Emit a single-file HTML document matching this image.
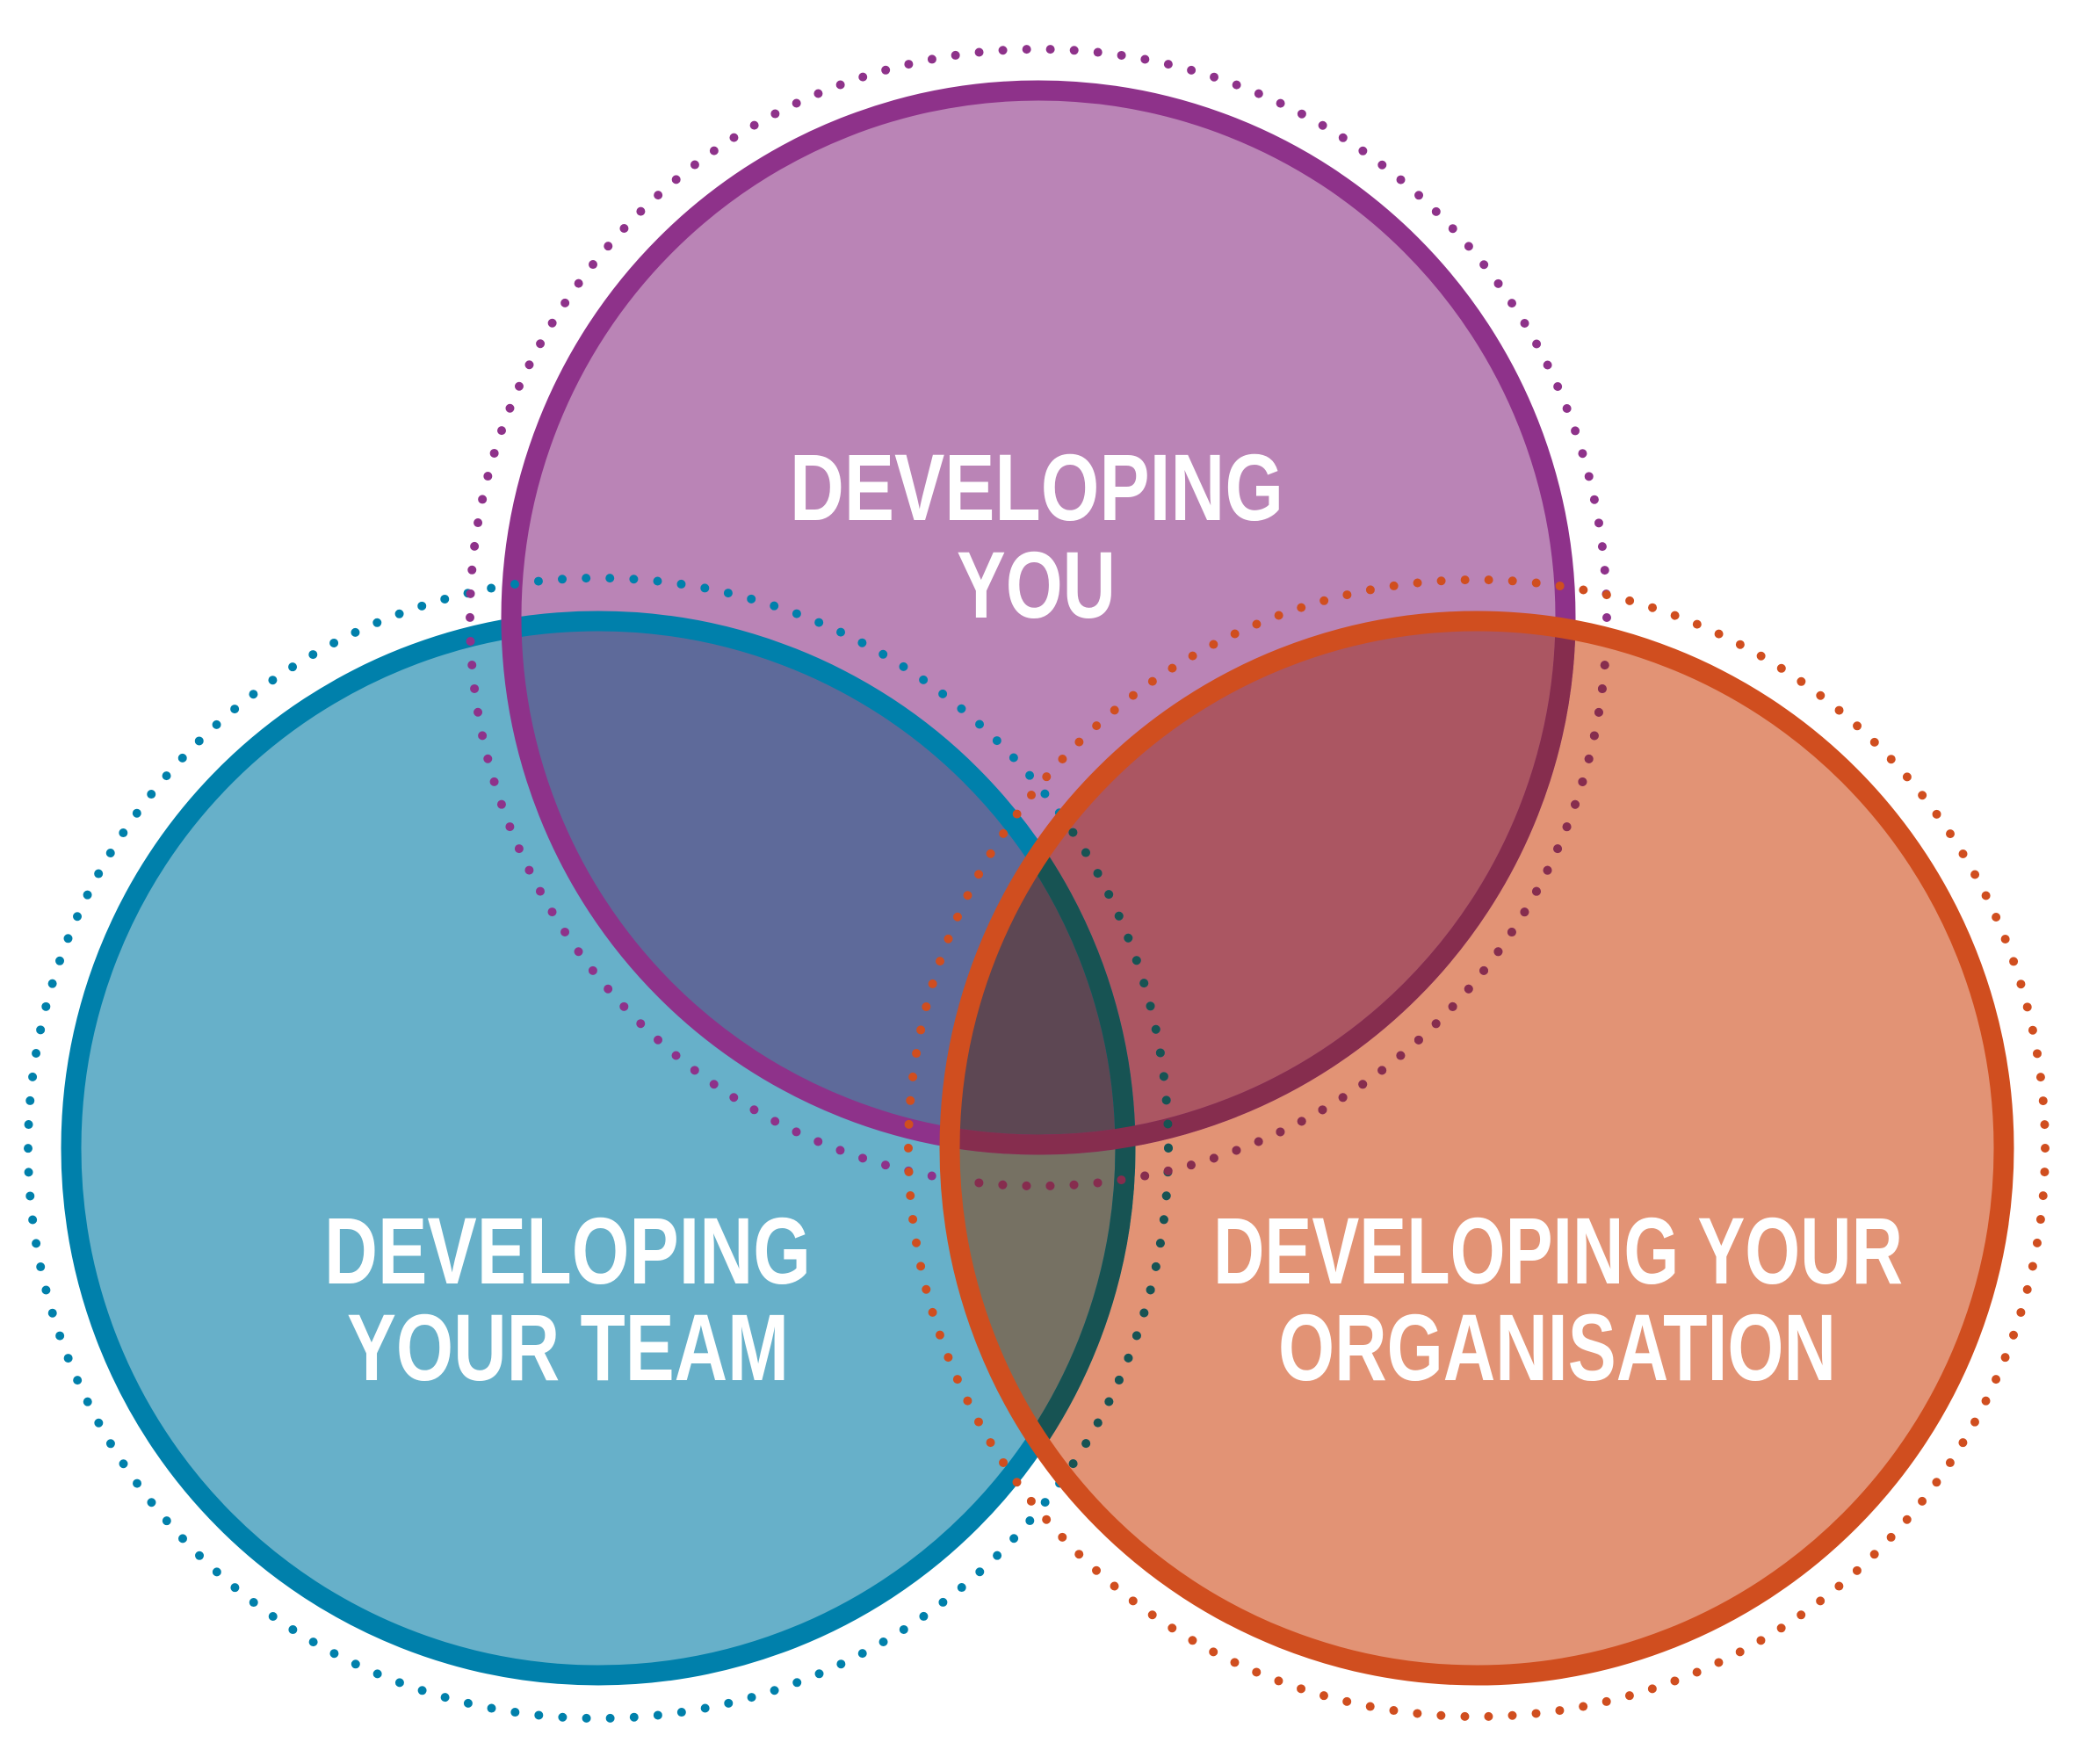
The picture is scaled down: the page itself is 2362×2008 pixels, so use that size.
<!DOCTYPE html>
<html><head><meta charset="utf-8"><style>
html,body{margin:0;padding:0;background:#fff;}
svg{display:block;}
text{font-family:"Liberation Sans Narrow","Liberation Sans",sans-serif;font-weight:bold;fill:#fff;font-size:108px;}
</style></head><body>
<svg width="2362" height="2008" viewBox="0 0 2362 2008" xmlns="http://www.w3.org/2000/svg">
<defs>
<clipPath id="cP"><circle cx="1182" cy="703" r="603"/></clipPath>
<clipPath id="cB"><circle cx="681" cy="1307" r="603"/></clipPath>
<clipPath id="cOin"><circle cx="1681" cy="1307" r="600"/></clipPath>
</defs>
<circle cx="681" cy="1307" r="603" fill="#67b0c9"/>
<circle cx="1182" cy="703" r="603" fill="#ba84b6"/>
<circle cx="1681" cy="1307" r="603" fill="#e29375"/>
<g clip-path="url(#cP)"><circle cx="681" cy="1307" r="603" fill="#5e6a9a"/><circle cx="1681" cy="1307" r="603" fill="#ab5662"/></g>
<g clip-path="url(#cB)"><circle cx="1681" cy="1307" r="603" fill="#767163"/>
<g clip-path="url(#cP)"><circle cx="1681" cy="1307" r="603" fill="#5d4753"/></g></g>
<circle cx="681" cy="1307" r="600" fill="none" stroke="#0080ab" stroke-width="23"/>
<circle cx="1182" cy="703" r="600" fill="none" stroke="#8e328a" stroke-width="23"/>
<circle cx="681" cy="1307" r="649" fill="none" stroke="#0080ab" stroke-width="10" stroke-linecap="round" stroke-dasharray="0 27.18"/>
<circle cx="1182" cy="703" r="647" fill="none" stroke="#8e328a" stroke-width="10" stroke-linecap="round" stroke-dasharray="0 27.1"/>
<g clip-path="url(#cOin)">
<circle cx="681" cy="1307" r="600" fill="none" stroke="#175353" stroke-width="23"/>
<circle cx="1182" cy="703" r="600" fill="none" stroke="#862d4e" stroke-width="23"/>
<circle cx="681" cy="1307" r="649" fill="none" stroke="#175353" stroke-width="10" stroke-linecap="round" stroke-dasharray="0 27.18"/>
<circle cx="1182" cy="703" r="647" fill="none" stroke="#862d4e" stroke-width="10" stroke-linecap="round" stroke-dasharray="0 27.1"/>
</g>
<circle cx="1681" cy="1307" r="600" fill="none" stroke="#d04e1f" stroke-width="23"/>
<circle cx="1681" cy="1307" r="647" fill="none" stroke="#d04e1f" stroke-width="10" stroke-linecap="round" stroke-dasharray="0 27.1"/>
<text x="899" y="592" textLength="562" lengthAdjust="spacingAndGlyphs">DEVELOPING</text>
<text x="1089" y="703" textLength="181" lengthAdjust="spacingAndGlyphs">YOU</text>
<text x="369" y="1461" textLength="554" lengthAdjust="spacingAndGlyphs">DEVELOPING</text>
<text x="395" y="1571" textLength="503" lengthAdjust="spacingAndGlyphs">YOUR TEAM</text>
<text x="1381" y="1461" textLength="785" lengthAdjust="spacingAndGlyphs">DEVELOPING YOUR</text>
<text x="1455" y="1571" textLength="635" lengthAdjust="spacingAndGlyphs">ORGANISATION</text>
</svg>
</body></html>
